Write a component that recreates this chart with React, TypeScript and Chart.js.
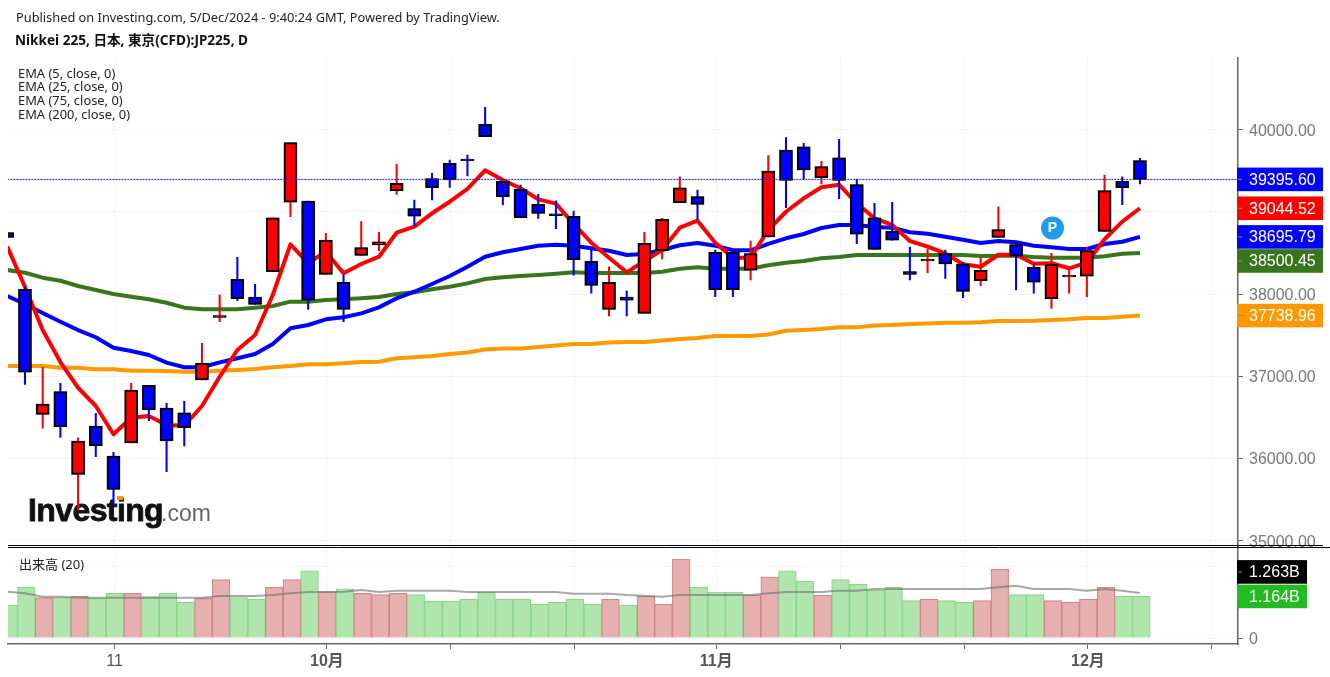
import React, { useEffect, useRef } from "react";
import { Chart, registerables } from "chart.js";

Chart.register(...registerables);

const headerLine = "Published on Investing.com, 5/Dec/2024 - 9:40:24 GMT, Powered by TradingView.";
const titleLine = "Nikkei 225, 日本, 東京(CFD):JP225, D";
const emaLegend = ["EMA (5, close, 0)", "EMA (25, close, 0)", "EMA (75, close, 0)", "EMA (200, close, 0)"];
const volumeLegend = "出来高 (20)";

const priceTicks = [35000, 36000, 37000, 38000, 39000, 40000];
const volumeTicks = [0, 2];
const xTickSessions = [5.06, 17.06, 24.06, 31.06, 39.06, 46.06, 53.06, 60.06, 67.06];
const xTickLabels = ["11", "10月", "", "", "11月", "", "", "12月", ""];

const opens = [38747,38058,36538,36813,35808,36395,36030,36189,36891,36614,36557,36955,37715,38180,37965,38273,39117,39133,38241,38144,38472,38597,39258,39039,39404,39591,39644,40066,39372,39275,39092,38975,38947,38399,37815,37965,37766,38528,39112,39185,38509,38509,38290,38695,39753,39790,39416,39659,39331,38929,38764,38273,38403,38492,38366,38163,38691,38601,38326,37944,38208,38217,38764,39372,39623];
const closes = [38691,37049,36663,36387,36213,36156,35625,36833,36590,36213,36375,37158,37740,37944,37876,38929,39842,37925,38658,37815,38565,38637,39348,38947,39294,39388,39623,39915,39185,38929,38983,38955,38419,38107,38144,37925,38618,38910,39294,39092,38054,38054,38492,39498,39384,39510,39550,39384,38728,38545,38655,38241,38423,38366,38034,38290,38784,38460,38144,38363,38228,38528,39258,39294,39395.6];
const highs = [38747,38090,37110,36915,36253,36550,36076,36915,36891,36672,36696,37402,37989,38448,38119,38929,39842,39133,38740,38232,38881,38752,39579,39145,39470,39631,39692,40272,39372,39327,39214,39136,39011,38537,38333,38041,38752,38922,39428,39266,38537,38509,38646,39684,39903,39835,39616,39883,39397,39105,39117,38573,38545,38537,38387,38443,39063,38622,38354,38496,38333,38565,39449,39428,39652];
const lows = [38691,36903,36368,36258,35374,36022,35434,36189,36460,35840,36152,36955,37664,37920,37876,38273,38942,37815,38241,37664,38472,38528,39214,38829,39145,39299,39437,39915,39084,38929,38922,38796,38229,38010,37734,37734,37766,38427,39112,38910,37968,37968,38172,38695,39051,39397,39339,39161,38613,38545,38655,38172,38260,38192,37956,38102,38691,38050,38010,37827,38010,37968,38764,39088,39339];

const ema5 = [38577,38086,37563,37174,36861,36639,36295,36496,36517,36408,36399,36639,36995,37320,37502,37989,38606,38378,38516,38253,38366,38455,38747,38820,38983,39124,39279,39506,39388,39287,39153,39100,38853,38625,38443,38265,38403,38537,38808,38893,38625,38443,38443,38780,39002,39165,39299,39331,39105,38922,38841,38646,38577,38496,38363,38333,38479,38479,38370,38375,38314,38382,38667,38881,39044.52];
const ema25 = [37977,37880,37770,37664,37563,37475,37348,37308,37259,37166,37110,37110,37170,37219,37271,37393,37584,37624,37693,37718,37766,37839,37949,38029,38123,38220,38333,38455,38509,38549,38589,38601,38589,38557,38528,38476,38488,38537,38594,38622,38589,38533,38533,38610,38679,38731,38804,38841,38841,38816,38808,38752,38735,38698,38662,38622,38646,38630,38589,38569,38549,38549,38610,38637,38695.79];
const ema75 = [38293,38260,38200,38163,38099,38050,38001,37968,37937,37895,37835,37815,37815,37815,37835,37855,37908,37908,37928,37937,37949,37965,38001,38022,38058,38090,38131,38184,38204,38220,38232,38248,38265,38257,38257,38257,38257,38273,38309,38326,38309,38309,38309,38350,38382,38403,38436,38451,38476,38476,38476,38476,38476,38476,38476,38464,38467,38467,38451,38443,38443,38443,38460,38490,38500.45];
const ema200 = [37125,37125,37125,37105,37105,37085,37085,37068,37068,37064,37056,37056,37068,37077,37089,37110,37125,37146,37146,37158,37174,37178,37219,37231,37247,37271,37290,37326,37338,37338,37357,37375,37393,37393,37411,37417,37417,37436,37454,37466,37490,37490,37490,37509,37555,37563,37575,37596,37596,37618,37624,37636,37642,37652,37652,37657,37673,37673,37676,37685,37693,37709,37709,37725,37738.96];

const volumes = [0.916,1.42,1.13,1.13,1.168,1.11,1.25,1.25,1.157,1.25,1.0,1.11,1.633,1.13,1.084,1.42,1.633,1.885,1.297,1.38,1.25,1.213,1.25,1.213,1.036,1.036,1.084,1.289,1.084,1.084,0.952,1.0,1.084,0.952,1.084,0.916,1.168,0.952,2.213,1.42,1.289,1.289,1.204,1.709,1.885,1.588,1.204,1.633,1.504,1.336,1.42,1.045,1.084,1.045,1.0,1.045,1.924,1.213,1.213,1.045,1.0,1.084,1.42,1.168,1.164];
const volumeMa = [1.297,1.252,1.157,1.157,1.129,1.129,1.129,1.129,1.129,1.129,1.129,1.129,1.176,1.176,1.176,1.204,1.252,1.289,1.289,1.297,1.345,1.289,1.325,1.325,1.325,1.325,1.289,1.289,1.289,1.289,1.289,1.289,1.241,1.241,1.241,1.204,1.185,1.157,1.204,1.204,1.204,1.204,1.204,1.252,1.289,1.289,1.289,1.325,1.325,1.373,1.373,1.373,1.373,1.373,1.373,1.373,1.42,1.465,1.373,1.373,1.373,1.325,1.373,1.325,1.263];

const lastPrice = 39395.6;
const lastVolume = 1.164;
const lastVolumeMa = 1.263;

const sessions = opens.map((_, i) => i - 1);
const isUp = opens.map((o, i) => closes[i] >= o);

const RED = "#ff0000";
const BLUE = "#0000ff";
const GREEN = "#38761d";
const ORANGE = "#ff9900";
const SANS = '"Noto Sans", "Noto Sans CJK JP", sans-serif';
const AXIS_FONT = '"Liberation Sans", "Noto Sans CJK JP", sans-serif';
const GRID = "#f4f4f4";
const AXIS = "#666666";

const line = (label: string, values: number[], color: string, order: number) => ({
  type: "line" as const,
  label,
  data: values.map((y, i) => ({ x: sessions[i], y })),
  borderColor: color,
  borderWidth: 4,
  pointRadius: 0,
  tension: 0,
  borderJoinStyle: "round" as const,
  xAxisID: "x",
  yAxisID: "y",
  order,
});

const overlay = {
  id: "overlay",
  beforeDatasetsDraw(chart: any) {
    const { ctx } = chart;
    ctx.save();
    ctx.fillStyle = "#ffffff";
    ctx.fillRect(1239, 548, 91, 12);
    ctx.textBaseline = "alphabetic";
    ctx.textAlign = "left";
    ctx.fillStyle = "#111111";
    ctx.strokeStyle = "#111111";
    ctx.lineWidth = 0.8;
    ctx.font = 'bold 32px "Liberation Sans", sans-serif';
    ctx.letterSpacing = "-0.6px";
    ctx.fillText("Investing", 28, 521);
    ctx.strokeText("Investing", 28, 521);
    ctx.letterSpacing = "0px";
    ctx.fillStyle = "#666666";
    ctx.font = '23px "Liberation Sans", sans-serif';
    ctx.fillText(".com", 161, 521);
    ctx.fillStyle = "#ff9900";
    ctx.fillRect(117, 496, 6, 4);
    ctx.restore();
  },
  beforeDatasetDraw(chart: any, args: any) {
    if (args.meta._dataset && args.meta._dataset.label === "bodies") {
      chart.ctx.save();
      chart.ctx.shadowColor = "rgba(0,0,0,0.55)";
      chart.ctx.shadowBlur = 1.5;
    }
  },
  afterDatasetDraw(chart: any, args: any) {
    if (args.meta._dataset && args.meta._dataset.label === "bodies") chart.ctx.restore();
  },
  afterDatasetsDraw(chart: any) {
    const { ctx, scales } = chart;
    ctx.save();
    const box = (value: number, text: string, color: string, scale: any, dy: number, right: number) => {
      const y = scale.getPixelForValue(value);
      ctx.fillStyle = color;
      ctx.fillRect(1237, y + dy - 11.8, right - 1237, 23.6);
      ctx.strokeStyle = "#888888";
      ctx.lineWidth = 1;
      ctx.beginPath();
      ctx.moveTo(1238, y + dy);
      ctx.lineTo(1242, y + dy);
      ctx.stroke();
      ctx.fillStyle = "#ffffff";
      ctx.font = `16px ${AXIS_FONT}`;
      ctx.textAlign = "left";
      ctx.textBaseline = "middle";
      ctx.fillText(text, 1249, y + dy + 1);
    };
    box(lastPrice, lastPrice.toFixed(2), BLUE, scales.y, 0, 1323);
    box(ema5[ema5.length - 1], ema5[ema5.length - 1].toFixed(2), RED, scales.y, 0, 1323);
    box(ema25[ema25.length - 1], ema25[ema25.length - 1].toFixed(2), BLUE, scales.y, 0, 1323);
    box(ema75[ema75.length - 1], ema75[ema75.length - 1].toFixed(2), GREEN, scales.y, 8, 1323);
    box(ema200[ema200.length - 1], ema200[ema200.length - 1].toFixed(2), "#ff9800", scales.y, 0, 1323);
    box(lastVolumeMa, `${lastVolumeMa.toFixed(3)}B`, "#000000", scales.yVol, -21, 1307);
    box(lastVolume, `${lastVolume.toFixed(3)}B`, "#22bb22", scales.yVol, 0, 1307);

    // pane divider
    ctx.strokeStyle = "#000000";
    ctx.lineWidth = 1;
    ctx.beginPath();
    ctx.moveTo(8, 545.5);
    ctx.lineTo(1323, 545.5);
    ctx.moveTo(8, 547.5);
    ctx.lineTo(1330, 547.5);
    ctx.stroke();

    // texts
    ctx.textAlign = "left";
    ctx.textBaseline = "alphabetic";
    ctx.fillStyle = "#222222";
    ctx.font = `12.8px ${SANS}`;
    ctx.fillText(headerLine, 16, 21.5);
    ctx.fillStyle = "#111111";
    ctx.font = `bold 13.6px ${SANS}`;
    ctx.fillText(titleLine, 15, 45);
    ctx.fillStyle = "#222222";
    ctx.font = `12.9px ${SANS}`;
    const ys = [77.5, 90.5, 104.5, 118.5];
    emaLegend.forEach((t, i) => ctx.fillText(t, 18, ys[i]));
    ctx.font = `13px ${SANS}`;
    ctx.fillText(volumeLegend, 19, 568.5);

    // marker
    ctx.fillStyle = "#1e9bea";
    ctx.beginPath();
    ctx.arc(1052.5, 228, 11.5, 0, Math.PI * 2);
    ctx.fill();
    ctx.fillStyle = "#ffffff";
    ctx.font = `bold 14px ${AXIS_FONT}`;
    ctx.textAlign = "center";
    ctx.textBaseline = "middle";
    ctx.fillText("P", 1052.5, 228.5);
    ctx.restore();
  },
};

export default function App() {
  const ref = useRef<HTMLCanvasElement | null>(null);
  useEffect(() => {
    if (!ref.current) return;
    const chart = new Chart(ref.current, {
      type: "bar",
      plugins: [overlay],
      data: {
        datasets: [
          {
            type: "line",
            label: "last",
            data: [{ x: -1, y: lastPrice }, { x: 69, y: lastPrice }],
            borderColor: "#1a1aff",
            borderWidth: 1,
            borderDash: [2, 1],
            pointRadius: 0,
            xAxisID: "x",
            yAxisID: "y",
            order: 1,
          },
          {
            label: "bodies",
            data: sessions.map((x, i) => ({ x, y: [opens[i], closes[i]] })),
            backgroundColor: isUp.map((u) => (u ? RED : BLUE)),
            borderColor: "#000000",
            borderWidth: 2,
            borderSkipped: false,
            barThickness: 13,
            grouped: false,
            xAxisID: "x",
            yAxisID: "y",
            order: 2,
          },
          {
            label: "wicks",
            data: sessions.map((x, i) => ({ x, y: [lows[i], highs[i]] })),
            backgroundColor: isUp.map((u) => (u ? RED : BLUE)),
            borderWidth: 0,
            barThickness: 1.4,
            grouped: false,
            xAxisID: "x",
            yAxisID: "y",
            order: 3,
          },
          line("EMA5", ema5, RED, 5),
          line("EMA25", ema25, BLUE, 6),
          line("EMA75", ema75, GREEN, 7),
          line("EMA200", ema200, ORANGE, 8),
          {
            type: "line",
            label: "VolumeMA",
            data: volumeMa.map((y, i) => ({ x: sessions[i], y })),
            borderColor: "rgba(110,110,110,0.6)",
            borderWidth: 2,
            pointRadius: 0,
            tension: 0,
            xAxisID: "x",
            yAxisID: "yVol",
            order: 0,
          },
          {
            label: "Volume",
            data: sessions.map((x, i) => ({ x: x + 0.08, y: volumes[i] })),
            backgroundColor: isUp.map((u) => (u ? "#e6b0b0" : "#b0e6ae")),
            borderColor: isUp.map((u) => (u ? "#d58586" : "#8bd78a")),
            borderWidth: 1.2,
            borderSkipped: "bottom",
            barThickness: 17.7,
            grouped: false,
            xAxisID: "x",
            yAxisID: "yVol",
            order: 10,
          },
        ] as any,
      },
      options: {
        responsive: false,
        animation: false,
        events: [],
        layout: { padding: { left: 8, top: 58, right: 0, bottom: 0 } },
        plugins: { legend: { display: false }, tooltip: { enabled: false }, title: { display: false } },
        scales: {
          x: {
            type: "linear",
            position: "bottom",
            offset: false,
            min: -0.96,
            max: 68.54,
            afterBuildTicks: (axis: any) => {
              axis.ticks = xTickSessions.map((value) => ({ value }));
            },
            afterFit: (axis: any) => {
              axis.height = 33;
            },
            grid: { offset: false, color: GRID, tickColor: AXIS, tickLength: 5, lineWidth: 1 },
            border: { color: AXIS, width: 1.5 },
            ticks: {
              autoSkip: false,
              maxRotation: 0,
              padding: 3,
              color: "#555555",
              callback: (value: any) => {
                const k = xTickSessions.indexOf(value);
                return k >= 0 ? xTickLabels[k] : "";
              },
              font: (ctx: any) => ({
                family: AXIS_FONT,
                size: 16,
                weight: xTickLabels[ctx.index] && xTickLabels[ctx.index].includes("月") ? "bold" : "normal",
              }),
            },
          },
          y: {
            type: "linear",
            axis: "y",
            position: "right",
            stack: "panes",
            stackWeight: 488.5,
            min: 34930,
            max: 40872,
            afterBuildTicks: (axis: any) => {
              axis.ticks = priceTicks.map((value) => ({ value }));
            },
            afterFit: (axis: any) => {
              axis.width = 92;
            },
            grid: { color: GRID, tickColor: AXIS, tickLength: 5 },
            border: { color: AXIS, width: 1.5 },
            ticks: {
              color: "#777777",
              padding: 6,
              labelOffset: 1.5,
              font: { family: AXIS_FONT, size: 16 },
              callback: (value: any) => Number(value).toFixed(2),
            },
          },
          yVol: {
            type: "linear",
            axis: "y",
            position: "right",
            stack: "panes",
            stackWeight: 97.5,
            min: -0.168,
            max: 2.563,
            afterBuildTicks: (axis: any) => {
              axis.ticks = volumeTicks.map((value) => ({ value }));
            },
            afterFit: (axis: any) => {
              axis.width = 92;
            },
            grid: { color: GRID, tickColor: AXIS, tickLength: 5 },
            border: { color: AXIS, width: 1.5 },
            ticks: {
              color: "#777777",
              padding: 6,
              labelOffset: 1.5,
              font: { family: AXIS_FONT, size: 16 },
              callback: (value: any) => (value === 0 ? "0" : ""),
            },
          },
        },
      } as any,
    });
    return () => chart.destroy();
  }, []);
  return (
    <div style={{ position: "absolute", left: 0, top: 0, width: 1330, height: 677, background: "#fff" }}>
      <canvas ref={ref} width={1330} height={677} style={{ display: "block" }} />
    </div>
  );
}
